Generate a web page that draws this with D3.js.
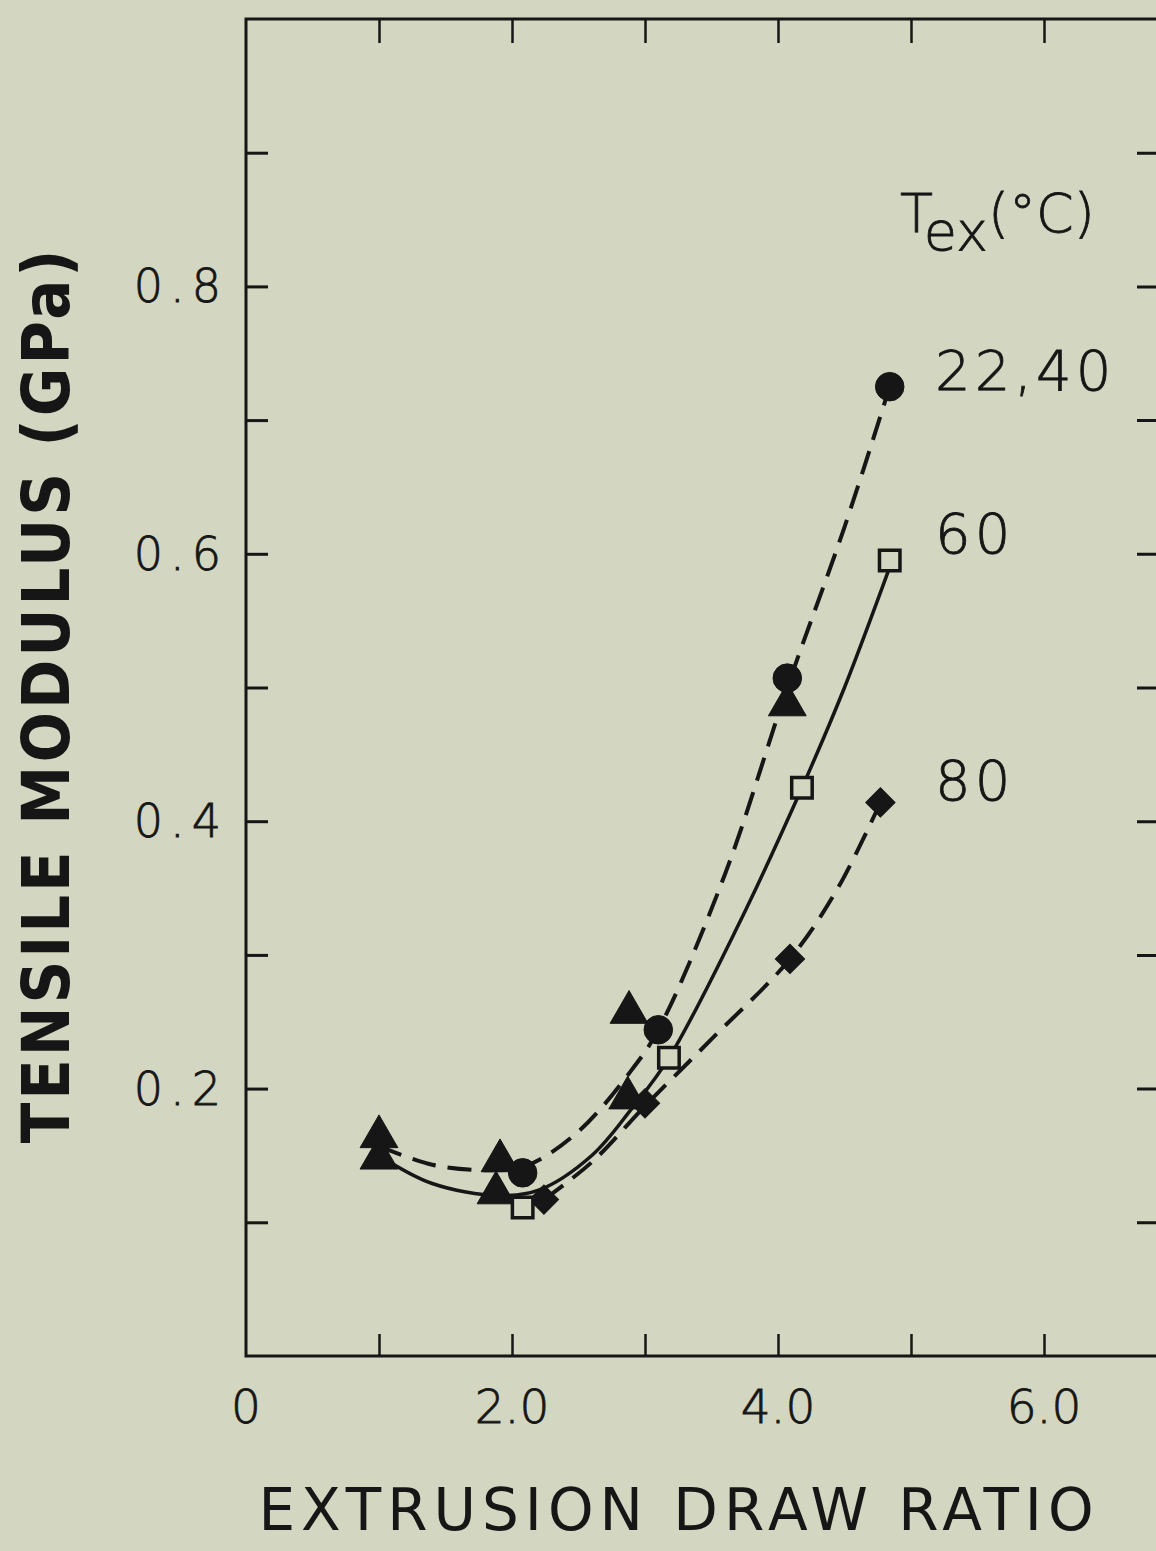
<!DOCTYPE html>
<html>
<head>
<meta charset="utf-8">
<script src="https://cdn.jsdelivr.net/npm/d3@7"></script>
<style>
  body { margin: 0; background: #d3d6c0; }
  svg { display: block; }
  text { fill: #161616; }
</style>
</head>
<body>
<svg width="1156" height="1551"></svg>
<script>
// tick values
var xTicks = [1, 2, 3, 4, 5, 6, 7];
var xLabels = [0, 2, 4, 6];
var yTicks = [0.1, 0.2, 0.3, 0.4, 0.5, 0.6, 0.7, 0.8, 0.9];
var yLabels = [0.2, 0.4, 0.6, 0.8];

// measured points  [draw ratio, modulus GPa]
var circles22 = [[2.08, 0.137], [3.1, 0.244], [4.07, 0.507], [4.84, 0.725]];
var triangles40 = [[1.0, 0.164], [1.91, 0.146], [2.88, 0.257], [4.07, 0.487]];
var trianglesLow = [[1.0, 0.148], [1.88, 0.122], [2.87, 0.193]];
var squares60 = [[2.08, 0.111], [3.18, 0.223], [4.18, 0.425], [4.84, 0.595]];
var diamonds80 = [[2.24, 0.117], [3.0, 0.189], [4.09, 0.297], [4.77, 0.414]];

// hand drawn curves
var curve2240 = [[1.0, 0.157], [1.4, 0.143], [1.8, 0.139], [2.1, 0.142], [2.5, 0.168], [2.9, 0.214], [3.1, 0.244], [3.6, 0.36], [4.07, 0.5], [4.5, 0.62], [4.84, 0.725]];
var curve60 = [[1.0, 0.15], [1.4, 0.129], [1.9, 0.12], [2.2, 0.124], [2.6, 0.15], [2.9, 0.185], [3.18, 0.223], [3.7, 0.322], [4.18, 0.425], [4.5, 0.5], [4.84, 0.59]];
var curve80 = [[2.24, 0.117], [2.6, 0.145], [3.0, 0.187], [3.5, 0.237], [4.09, 0.297], [4.45, 0.35], [4.77, 0.414]];

var curveLabels = [["22,40", 0.727], ["60", 0.605], ["80", 0.42]];

var svg = d3.select("svg");

var x = d3.scaleLinear().domain([0, 7]).range([246, 1177]),
    y = d3.scaleLinear().domain([0, 1]).range([1356, 19]);

var ink = "#161616";

// frame
svg.append("rect")
   .attr("x", x(0)).attr("y", y(1))
   .attr("width", x(7) - x(0)).attr("height", y(0) - y(1))
   .attr("fill", "none").attr("stroke", ink).attr("stroke-width", 3);

// ticks pointing inwards
svg.append("g").attr("transform", "translate(0," + y(0) + ")")
   .call(d3.axisTop(x).tickValues(xTicks).tickSize(22).tickFormat(""))
   .call(g => g.select(".domain").remove())
   .selectAll("line").attr("stroke", ink).attr("stroke-width", 2.5);

svg.append("g").attr("transform", "translate(0," + y(1) + ")")
   .call(d3.axisBottom(x).tickValues(xTicks).tickSize(24).tickFormat(""))
   .call(g => g.select(".domain").remove())
   .selectAll("line").attr("stroke", ink).attr("stroke-width", 2.5);

svg.append("g").attr("transform", "translate(" + x(0) + ",0)")
   .call(d3.axisRight(y).tickValues(yTicks).tickSize(22).tickFormat(""))
   .call(g => g.select(".domain").remove())
   .selectAll("line").attr("stroke", ink).attr("stroke-width", 3);

svg.append("g").attr("transform", "translate(" + x(7) + ",0)")
   .call(d3.axisLeft(y).tickValues(yTicks).tickSize(40).tickFormat(""))
   .call(g => g.select(".domain").remove())
   .selectAll("line").attr("stroke", ink).attr("stroke-width", 3);

// tick labels
svg.selectAll(".xl")
   .data(xLabels)
   .enter().append("text")
   .attr("x", d => x(d))
   .attr("y", 1423)
   .attr("text-anchor", "middle")
   .attr("font-family", "DejaVu Sans")
   .attr("font-weight", 200)
   .attr("font-size", "47px")
   .attr("stroke", ink).attr("stroke-width", 0.8)
   .text(d => d == 0 ? "0" : d3.format(".1f")(d));

svg.selectAll(".yl")
   .data(yLabels)
   .enter().append("text")
   .attr("x", 228)
   .attr("y", d => y(d) + 16)
   .attr("text-anchor", "end")
   .attr("font-family", "DejaVu Sans")
   .attr("font-weight", 200)
   .attr("font-size", "46px")
   .attr("letter-spacing", "7px")
   .attr("stroke", ink).attr("stroke-width", 0.8)
   .text(d => d3.format(".1f")(d));

// axis titles
svg.append("text")
   .attr("x", 679)
   .attr("y", 1530)
   .attr("text-anchor", "middle")
   .attr("font-family", "DejaVu Sans")
   .attr("font-size", "58px")
   .attr("letter-spacing", "6px")
   .text("EXTRUSION  DRAW  RATIO");

svg.append("text")
   .attr("transform", "translate(69,695) rotate(-90)")
   .attr("text-anchor", "middle")
   .attr("font-family", "DejaVu Sans Condensed")
   .attr("font-weight", "bold")
   .attr("font-size", "66px")
   .attr("letter-spacing", "3px")
   .text("TENSILE  MODULUS  (GPa)");

// curves
var line = d3.line()
   .x(d => x(d[0]))
   .y(d => y(d[1]))
   .curve(d3.curveCatmullRom.alpha(0.5));

svg.append("path").datum(curve2240)
   .attr("d", line).attr("fill", "none").attr("stroke", ink)
   .attr("stroke-width", 4).attr("stroke-dasharray", "24,12");

svg.append("path").datum(curve60)
   .attr("d", line).attr("fill", "none").attr("stroke", ink)
   .attr("stroke-width", 3.5);

svg.append("path").datum(curve80)
   .attr("d", line).attr("fill", "none").attr("stroke", ink)
   .attr("stroke-width", 4).attr("stroke-dasharray", "24,12");

// markers
function marks(data, type, size, open) {
    svg.append("g").selectAll("path")
       .data(data)
       .enter().append("path")
       .attr("transform", d => "translate(" + x(d[0]) + "," + y(d[1]) + ")" + (type == d3.symbolSquare && !open ? " rotate(45)" : ""))
       .attr("d", d3.symbol().type(type).size(size))
       .attr("fill", open ? "#d3d6c0" : ink)
       .attr("stroke", ink)
       .attr("stroke-width", open ? 3.5 : 1);
}

marks(trianglesLow, d3.symbolTriangle, 620, false);
marks(triangles40, d3.symbolTriangle, 620, false);
marks(diamonds80, d3.symbolSquare, 430, false);
marks(circles22, d3.symbolCircle, 640, false);
marks(squares60, d3.symbolSquare, 420, true);

// curve labels
svg.append("text")
   .attr("x", 900)
   .attr("y", 232)
   .attr("font-family", "DejaVu Sans")
   .attr("font-weight", 200)
   .attr("font-size", "54px")
   .attr("stroke", ink).attr("stroke-width", 0.8)
   .text("T")
   .append("tspan")
   .attr("dy", 18)
   .text("ex")
   .append("tspan")
   .attr("dy", -18)
   .text("(°C)");

svg.selectAll(".cl")
   .data(curveLabels)
   .enter().append("text")
   .attr("x", 935)
   .attr("y", d => y(d[1]) + 6)
   .attr("font-family", "DejaVu Sans")
   .attr("font-weight", 200)
   .attr("font-size", "56px")
   .attr("letter-spacing", "4px")
   .attr("stroke", ink).attr("stroke-width", 0.8)
   .text(d => d[0]);
</script>
</body>
</html>
